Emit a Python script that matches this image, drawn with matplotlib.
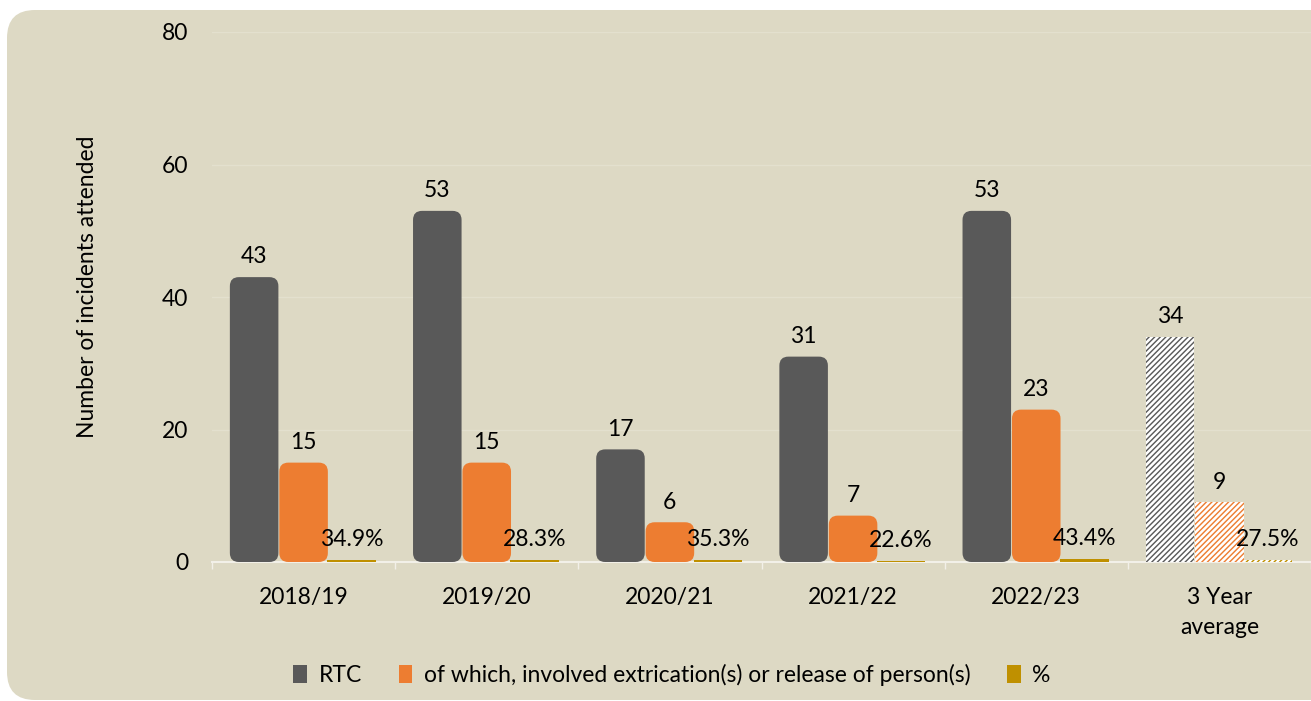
import matplotlib
matplotlib.use("Agg")
import matplotlib.pyplot as plt
from matplotlib.patches import FancyBboxPatch, Patch
import numpy as np

categories = ["2018/19", "2019/20", "2020/21", "2021/22", "2022/23", "3 Year\naverage"]
rtc = [43, 53, 17, 31, 53, 34]
extrication = [15, 15, 6, 7, 23, 9]
pct = [34.9, 28.3, 35.3, 22.6, 43.4, 27.5]
series_names = ["RTC", "of which, involved extrication(s) or release of person(s)", "%"]
yticks = [0, 20, 40, 60, 80]

plt.rcParams['font.family'] = ['Lato', 'DejaVu Sans']
FS = 16.5
BG = "#DDD9C4"
C_RTC = "#595959"
C_EXT = "#ED7D31"
C_PCT = "#BF9000"

fig = plt.figure(figsize=(13.11, 7.01), dpi=100)
fig.patch.set_facecolor("white")
bgbox = FancyBboxPatch((0.07, 0.01), 13.4, 6.9, boxstyle="round,pad=0,rounding_size=0.28",
                       transform=fig.dpi_scale_trans, facecolor=BG, edgecolor="none", zorder=-10)
fig.patches.append(bgbox)

ax = fig.add_axes([212/1311, 139/701, 1 - 212/1311, 530/701])
ax.set_zorder(1)
ax.set_facecolor("none")
ax.set_xlim(-0.5, len(categories) - 0.5)
ax.set_ylim(0, 80)

x = np.arange(len(categories))
w = 0.265
offs = [-0.27, 0.0, 0.262]
pct_frac = [p / 100 for p in pct]

plt.rcParams['hatch.linewidth'] = 1.8
n = len(categories)
xpx = ax.transData.transform((1, 0))[0] - ax.transData.transform((0, 0))[0]
ypx = ax.transData.transform((0, 1))[1] - ax.transData.transform((0, 0))[1]
for vals, off, col, fmt in [(rtc, offs[0], C_RTC, "{:d}"), (extrication, offs[1], C_EXT, "{:d}"),
                            (pct_frac, offs[2], C_PCT, None)]:
    bars = ax.bar(x + off, vals, width=w, color=col, zorder=3)
    for i, b in enumerate(bars):
        bx, by, bw, bh = b.get_x(), b.get_y(), b.get_width(), b.get_height()
        if i == n - 1:
            b.set_hatch("//////")
            b.set_edgecolor("#FFFFFF")
            b.set_linewidth(0)
        elif fmt is not None:
            b.set_visible(False)
            r = 9 / xpx
            p = FancyBboxPatch((bx, by), bw, bh, boxstyle=f"round,pad=0,rounding_size={r}",
                               mutation_aspect=xpx / ypx, facecolor=col, edgecolor="none", zorder=3)
            ax.add_patch(p)
        label = fmt.format(vals[i]) if fmt else f"{pct[i]:.1f}%"
        ax.annotate(label, (bx + bw / 2, bh), xytext=(0, 7), textcoords="offset points",
                    ha="center", va="bottom", fontsize=FS, color="#000000", zorder=5)

ax.set_yticks(yticks)
ax.set_yticklabels([str(t) for t in yticks], fontsize=FS)
ax.tick_params(axis="y", length=0, pad=17)
ax.set_xticks(x)
ax.set_xticklabels(categories, fontsize=FS, linespacing=1.55)
ax.tick_params(axis="x", which="major", length=0, pad=18)
ax.set_xticks(np.arange(-0.5, n, 1.0), minor=True)
ax.tick_params(axis="x", which="minor", length=5, color="#F2F0E8", width=1)
ax.grid(axis="y", color="#E3E0CE", linewidth=1, zorder=0)
for s in ["top", "right", "left"]:
    ax.spines[s].set_visible(False)
ax.spines["bottom"].set_color("#F2F0E8")
ax.spines["bottom"].set_linewidth(1.5)
ax.set_ylabel("Number of incidents attended", fontsize=FS)
ax.yaxis.set_label_coords((98 - 212) / 1099, 0.52)

handles = [Patch(facecolor=c, edgecolor="none") for c in [C_RTC, C_EXT, C_PCT]]
fig.legend(handles, series_names, loc="center", bbox_to_anchor=(672 / 1311, 1 - 675 / 701),
           ncol=3, frameon=False, fontsize=FS, handlelength=0.6, handleheight=0.8,
           handletextpad=0.5, columnspacing=1.6)

fig.savefig("out.png", dpi=100, facecolor="white")
